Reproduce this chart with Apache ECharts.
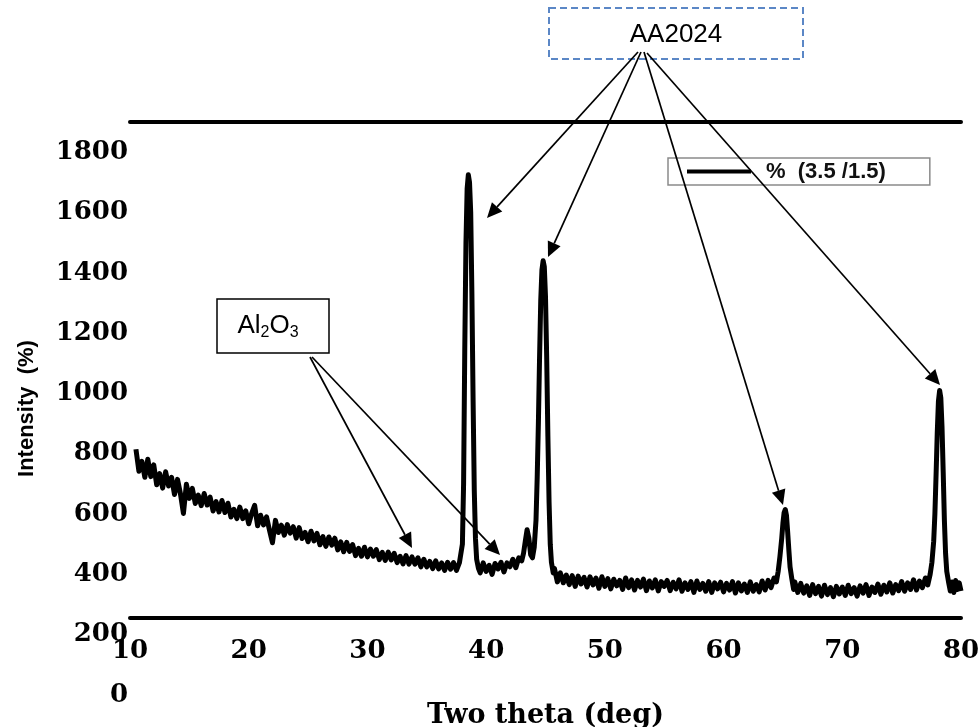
<!DOCTYPE html>
<html>
<head>
<meta charset="utf-8">
<script src="https://cdn.jsdelivr.net/npm/echarts@6/dist/echarts.min.js"></script>
<style>html,body{margin:0;padding:0;background:#fff}#c{width:979px;height:727px}</style>
</head>
<body>
<div id="c"></div>
<script>
// ---- data ----
const seriesName = '%  (3.5 /1.5)';
const twoTheta = [
  10.50,10.75,11.00,11.25,11.50,11.75,12.00,12.25,12.50,12.75,13.00,13.25,13.50,13.75,14.00,14.25,14.50,14.75,
  15.00,15.25,15.50,15.75,16.00,16.25,16.50,16.75,17.00,17.25,17.50,17.75,18.00,18.25,18.50,18.75,19.00,19.25,19.50,19.75,
  20.00,20.25,20.50,20.75,21.00,21.25,21.50,21.75,22.00,22.25,22.50,22.75,23.00,23.25,23.50,23.75,24.00,24.25,24.50,24.75,
  25.00,25.25,25.50,25.75,26.00,26.25,26.50,26.75,27.00,27.25,27.50,27.75,28.00,28.25,28.50,28.75,29.00,29.25,29.50,29.75,
  30.00,30.25,30.50,30.75,31.00,31.25,31.50,31.75,32.00,32.25,32.50,32.75,33.00,33.25,33.50,33.75,34.00,34.25,34.50,34.75,
  35.00,35.25,35.50,35.75,36.00,36.25,36.50,36.75,37.00,37.25,37.50,37.75,
  37.90,38.00,38.10,38.20,38.30,38.40,38.50,38.60,38.70,38.80,38.90,39.00,39.10,39.20,39.35,
  39.50,39.75,40.00,40.25,40.50,40.75,41.00,41.25,41.50,41.75,42.00,42.25,42.50,42.75,43.00,43.15,43.30,43.45,43.60,43.75,43.90,44.05,
  44.20,44.30,44.40,44.50,44.60,44.70,44.80,44.90,45.00,45.10,45.20,45.30,45.40,45.50,45.65,
  45.75,46.00,46.25,46.50,46.75,47.00,47.25,47.50,47.75,48.00,48.25,48.50,48.75,49.00,49.25,49.50,49.75,
  50.00,50.25,50.50,50.75,51.00,51.25,51.50,51.75,52.00,52.25,52.50,52.75,53.00,53.25,53.50,53.75,54.00,54.25,54.50,54.75,
  55.00,55.25,55.50,55.75,56.00,56.25,56.50,56.75,57.00,57.25,57.50,57.75,58.00,58.25,58.50,58.75,59.00,59.25,59.50,59.75,
  60.00,60.25,60.50,60.75,61.00,61.25,61.50,61.75,62.00,62.25,62.50,62.75,63.00,63.25,63.50,63.75,64.00,64.25,
  64.45,64.60,64.75,64.90,65.00,65.10,65.20,65.30,65.40,65.50,65.60,65.75,65.90,66.00,
  66.25,66.50,66.75,67.00,67.25,67.50,67.75,68.00,68.25,68.50,68.75,69.00,69.25,69.50,69.75,
  70.00,70.25,70.50,70.75,71.00,71.25,71.50,71.75,72.00,72.25,72.50,72.75,73.00,73.25,73.50,73.75,74.00,74.25,74.50,74.75,
  75.00,75.25,75.50,75.75,76.00,76.25,76.50,76.75,77.00,77.20,
  77.40,77.55,77.70,77.80,77.90,78.00,78.10,78.20,78.30,78.40,78.50,78.60,78.70,78.80,78.95,
  79.10,79.25,79.40,79.55,79.70,79.85,80.00
];
const intensity = [
  815,742,775,722,782,724,763,697,734,686,740,693,722,665,715,667,602,699,
  652,685,635,663,628,668,630,656,610,641,607,645,605,636,590,616,585,623,585,611,
  568,602,629,561,596,564,591,546,505,579,539,563,530,565,537,558,520,555,519,539,
  508,543,511,536,498,525,493,524,497,520,481,508,475,506,476,499,462,486,460,490,
  458,484,460,482,449,473,446,474,448,470,439,460,435,462,434,458,434,455,425,450,
  425,443,419,445,418,438,413,440,417,439,413,439,
  440,500,700,1150,1500,1680,1725,1700,1600,1330,980,680,520,450,420,
  405,438,410,430,400,436,418,440,408,438,425,450,422,455,445,470,510,548,520,465,455,490,
  580,720,900,1120,1310,1410,1440,1420,1320,1120,860,640,500,440,405,
  420,375,405,372,398,366,396,360,394,368,390,358,392,365,388,354,392,
  360,386,352,384,362,380,350,388,356,382,348,380,358,384,346,378,355,382,345,376,
  360,380,346,374,352,382,344,372,350,376,340,378,350,370,344,376,340,372,352,374,
  342,370,348,376,338,372,345,368,340,375,344,366,342,378,348,380,356,388,
  375,410,460,520,570,605,615,595,540,480,425,385,350,375,
  340,370,338,362,330,366,336,360,328,364,333,356,326,360,335,
  358,330,364,336,356,328,362,338,366,330,358,340,368,334,364,342,372,338,366,346,
  376,344,372,350,382,348,378,356,388,365,
  400,440,510,600,730,870,975,1010,985,890,740,580,470,410,375,
  345,375,340,380,350,372,345
];
const xTicks = {min: 10, max: 80, step: 10};
const yTicks = {min: 0, max: 1900, step: 200};

const chart = echarts.init(document.getElementById('c'), null, {renderer: 'canvas'});
const serif = 'DejaVu Serif';
const sans = 'Liberation Sans, Arial, sans-serif';

function arrow(x1, y1, x2, y2) {
  const dx = x2 - x1, dy = y2 - y1, L = Math.sqrt(dx*dx + dy*dy);
  const ux = dx / L, uy = dy / L, hl = 15, hw = 7;
  const bx = x2 - ux*hl, by = y2 - uy*hl;
  return [
    {type: 'line', shape: {x1: x1, y1: y1, x2: bx, y2: by}, style: {stroke: '#000', lineWidth: 1.7}, z: 100},
    {type: 'polygon', shape: {points: [[x2, y2], [bx - uy*hw, by + ux*hw], [bx + uy*hw, by - ux*hw]]}, style: {fill: '#000'}, z: 100}
  ];
}

const graphics = [
  {type: 'rect', shape: {x: 549, y: 8, width: 254, height: 51}, style: {fill: '#fff', stroke: '#5b87c6', lineWidth: 2, lineDash: [7, 4]}, z: 90},
  {type: 'text', x: 676, y: 35, style: {text: 'AA2024', font: '26px ' + sans, fill: '#000', textAlign: 'center', textVerticalAlign: 'middle'}, z: 95},
  {type: 'rect', shape: {x: 217, y: 299, width: 112, height: 54}, style: {fill: '#fff', stroke: '#000', lineWidth: 1.5}, z: 90},
  {type: 'text', x: 268, y: 326, style: {
    text: '{n|Al}{s|2}{n|O}{s|3}', textAlign: 'center', textVerticalAlign: 'middle',
    rich: {
      n: {fontSize: 26, fontFamily: sans, fill: '#000', lineHeight: 30, verticalAlign: 'middle'},
      s: {fontSize: 16, fontFamily: sans, fill: '#000', lineHeight: 30, verticalAlign: 'bottom'}
    }}, z: 95}
].concat(
  arrow(638, 52, 487, 218),
  arrow(641, 52, 548, 257),
  arrow(644, 52, 783, 505),
  arrow(647, 53, 940, 385),
  arrow(310, 357, 412, 548),
  arrow(312, 357, 500, 555)
);

const option = {
  animation: false,
  backgroundColor: '#fff',
  grid: {left: 130, right: 18, top: 122, bottom: 32, containLabel: false, outerBoundsMode: 'none'},
  legend: {
    data: [seriesName], left: 668, top: 158,
    icon: 'rect', itemWidth: 64, itemHeight: 4,
    borderColor: '#8a8a8a', borderWidth: 1.5, padding: [2, 44, 2, 19],
    textStyle: {fontFamily: sans, fontWeight: 'bold', fontSize: 22, color: '#111', padding: [0, 0, 0, 10], lineHeight: 23}
  },
  xAxis: [{
    type: 'value', position: 'bottom', min: xTicks.min, max: xTicks.max, interval: xTicks.step,
    offset: -77,
    axisLine: {show: true, lineStyle: {color: '#000', width: 4}},
    axisTick: {show: false}, splitLine: {show: false},
    axisLabel: {margin: 20, fontFamily: serif, fontWeight: 'bold', fontSize: 26, color: '#000'},
    name: 'Two theta (deg)', nameLocation: 'middle', nameGap: 84,
    nameTextStyle: {fontFamily: serif, fontWeight: 'bold', fontSize: 27, color: '#000'}
  }, {
    type: 'value', position: 'top', min: xTicks.min, max: xTicks.max,
    axisLine: {show: true, lineStyle: {color: '#000', width: 4}},
    axisTick: {show: false}, axisLabel: {show: false}, splitLine: {show: false}
  }],
  yAxis: {
    type: 'value', min: yTicks.min, max: yTicks.max, interval: yTicks.step,
    axisLine: {show: false}, axisTick: {show: false}, splitLine: {show: false},
    axisLabel: {margin: 2, fontFamily: serif, fontWeight: 'bold', fontSize: 26, color: '#000', showMaxLabel: false,
      formatter: function (v) { return String(v); }},
    name: 'Intensity  (%)', nameLocation: 'middle', nameRotate: 90, nameGap: 92,
    nameTextStyle: {fontFamily: sans, fontWeight: 'bold', fontSize: 22, color: '#000'}
  },
  series: [{
    name: seriesName, type: 'line', xAxisIndex: 0,
    data: twoTheta.map((t, i) => [t, intensity[i]]),
    symbol: 'none', smooth: false,
    lineStyle: {color: '#000', width: 5, join: 'round'},
    itemStyle: {color: '#000'}
  }],
  graphic: graphics
};
chart.setOption(option);
</script>
</body>
</html>
